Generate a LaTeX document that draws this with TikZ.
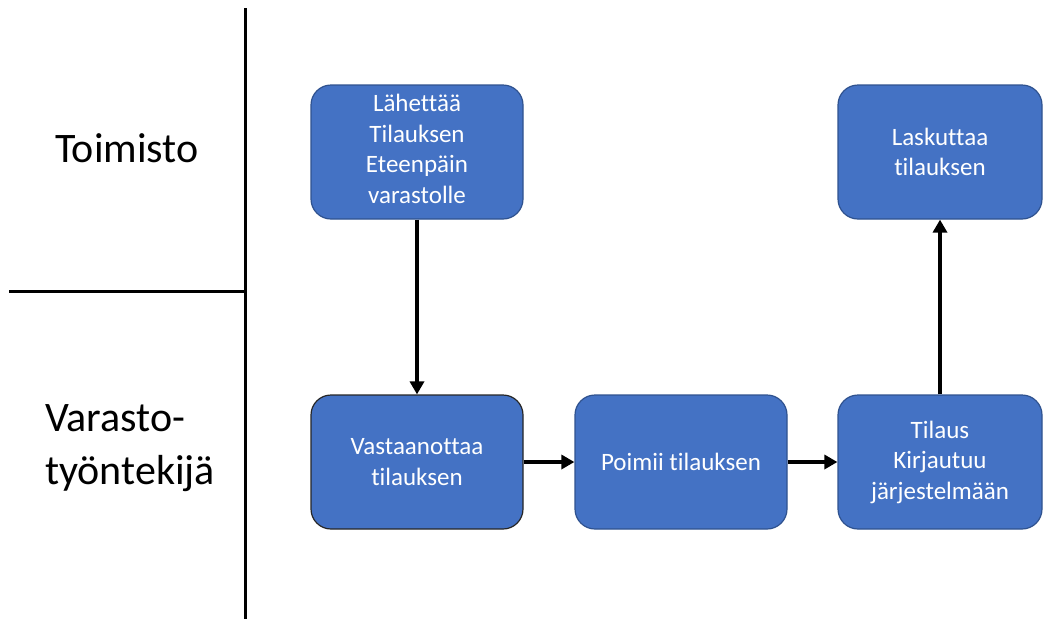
\documentclass[tikz,border=0pt]{standalone}
\usepackage{fontspec}
\setmainfont{Carlito}[Ligatures={NoCommon}]
\usetikzlibrary{arrows.meta}
\definecolor{boxblue}{HTML}{4472C4}
\definecolor{boxedge}{HTML}{2F528F}
\begin{document}
\begin{tikzpicture}[x=1pt,y=-1pt,
  proc/.style={draw=boxedge,line width=1.2pt,fill=boxblue,rounded corners=20pt,
    minimum width=212pt,minimum height=134pt,text=white,align=center,
    font=\fontsize{25}{30.5}\selectfont,inner sep=0pt},
  flow/.style={line width=4pt,-{Triangle[length=13pt,width=14pt]}},
  lane/.style={line width=3pt},
  lanelabel/.style={font=\fontsize{42}{53}\selectfont,align=left,anchor=west,inner sep=0pt}]
\useasboundingbox (0,0) rectangle (1044,619);
\draw[lane] (245,8) coordinate (vtop) -- (245,619) coordinate (vbot);
\coordinate (hl) at (9,291);
\coordinate (hr) at (245,291);
\draw[lane] (hl) -- (hr);
\node[lanelabel] (toim) at (55,148) {Toimisto};
\node[lanelabel] (var) at (45,448) {Varasto-\\työntekijä};
\node[proc,text depth=6pt] (b1) at (417,152) {Lähettää\\Tilauksen\\Eteenpäin\\varastolle};
\node[proc,draw=black!85] (b2) at (417,462) {Vastaanottaa\\tilauksen};
\node[proc] (b3) at (681,462) {Poimii tilauksen};
\node[proc,minimum width=204pt] (b4) at (940,462) {Tilaus\\Kirjautuu\\järjestelmään};
\node[proc,minimum width=204pt] (b5) at (940,152) {Laskuttaa\\tilauksen};
\draw[flow] (b1) -- (b2);
\draw[flow] (b2) -- (b3);
\draw[flow] (b3) -- (b4);
\draw[flow] (b4) -- (b5);
\end{tikzpicture}
\end{document}
